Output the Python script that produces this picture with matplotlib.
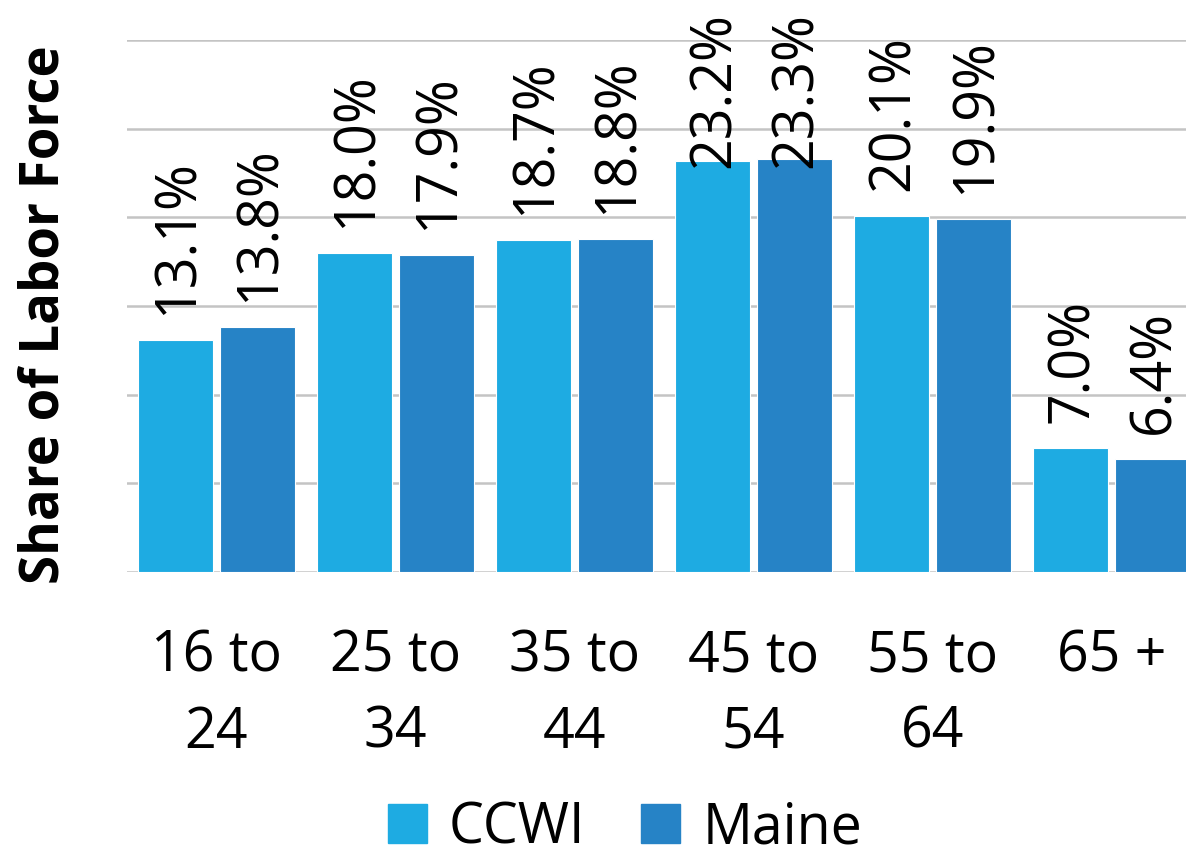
import matplotlib
matplotlib.use("Agg")
import matplotlib.pyplot as plt
import numpy as np
from matplotlib.patches import Patch

categories = ["16 to\n24", "25 to\n34", "35 to\n44", "45 to\n54", "55 to\n64", "65 +"]
ccwi = [13.1, 18.0, 18.7, 23.2, 20.1, 7.0]
maine = [13.8, 17.9, 18.8, 23.3, 19.9, 6.4]
series_names = ["CCWI", "Maine"]
colors = ["#1EABE2", "#2683C6"]

plt.rcParams['font.family'] = ['Open Sans', 'DejaVu Sans']

W, H = 1186, 856
fig = plt.figure(figsize=(W / 100, H / 100), dpi=100)
ax = fig.add_axes([127 / W, (H - 572) / H, (1201 - 127) / W, (572 - 40) / H])

x = np.arange(len(categories))
bw = 0.419
off = 0.229
b1 = ax.bar(x - off, ccwi, bw, color=colors[0], edgecolor="white", linewidth=0.8, zorder=3)
b2 = ax.bar(x + off, maine, bw, color=colors[1], edgecolor="white", linewidth=0.8, zorder=3)

ax.set_xlim(-0.5, len(categories) - 0.5)
ax.set_ylim(0, 30)
ax.set_yticks(np.arange(0, 31, 5))
ax.yaxis.grid(True, color="#C4C4C4", linewidth=1.8, zorder=0)
ax.set_axisbelow(True)
ax.tick_params(axis="y", left=False, labelleft=False)
ax.tick_params(axis="x", bottom=False, labelsize=40, pad=37)
for s in ax.spines.values():
    s.set_visible(False)
ax.set_xticks(x)
ax.set_xticklabels(categories, linespacing=1.45)

ax.set_ylabel("Share of Labor Force", fontsize=38, fontweight="bold")
ax.yaxis.set_label_coords(-(127 - 72) / (1201 - 127), (572 - 315) / (572 - 40))

labels = []
for bars, vals in ((b1, ccwi), (b2, maine)):
    for rect, v in zip(bars, vals):
        t = ax.annotate(f"{v:.1f}%", (rect.get_x() + rect.get_width() / 2, v),
                        xytext=(2, 18), textcoords="offset points",
                        rotation=90, ha="center", va="bottom", fontsize=40)
        labels.append(t)

fig.legend(handles=[Patch(color=colors[0]), Patch(color=colors[1])], labels=series_names,
           loc="center", bbox_to_anchor=(0.527, 0.032), ncol=2, frameon=False,
           fontsize=40, handlelength=0.7, handleheight=0.7, handletextpad=0.4,
           columnspacing=1.0)

fig.canvas.draw()
r = fig.canvas.get_renderer()
top_limit = H - 12
for t in labels:
    bb = t.get_window_extent(r)
    if bb.y1 > top_limit:
        dy = (bb.y1 - top_limit) * 72 / 100
        xo, yo = t.xyann
        t.xyann = (xo, yo - dy)

fig.savefig("out.png", dpi=100)
